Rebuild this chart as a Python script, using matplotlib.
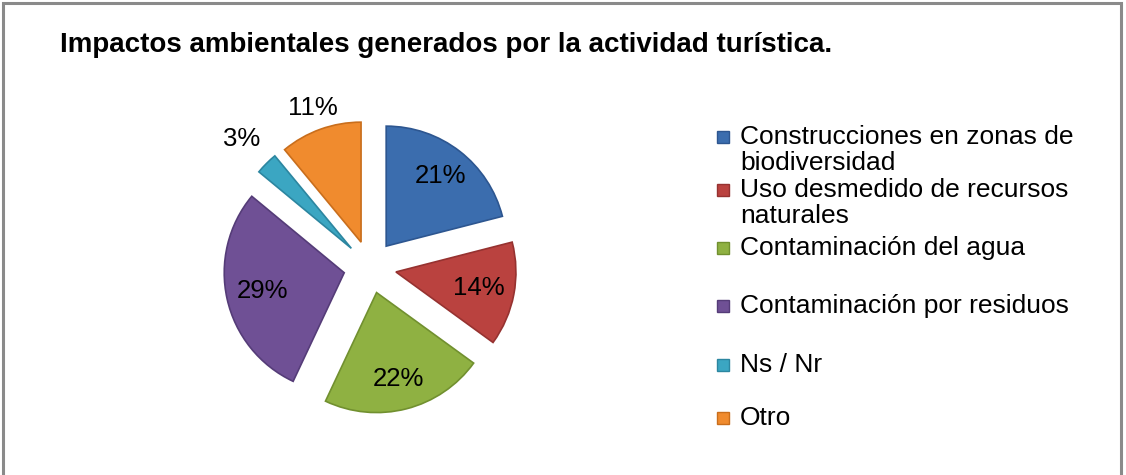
import matplotlib.pyplot as plt, numpy as np
from matplotlib.patches import Rectangle

plt.rcParams['font.family'] = ['Liberation Sans', 'DejaVu Sans']

# datos
titulo = 'Impactos ambientales generados por la actividad turística.'
categorias = ['Construcciones en zonas de\nbiodiversidad',
              'Uso desmedido de recursos\nnaturales',
              'Contaminación del agua',
              'Contaminación por residuos',
              'Ns / Nr',
              'Otro']
valores = [21, 14, 22, 29, 3, 11]
colores = ['#3B6DAE', '#BA423F', '#8FB142', '#6F5095', '#3BA6C2', '#F08B2E']
bordes = ['#2D5690', '#963230', '#71902F', '#553C78', '#2C86A0', '#C96E1C']

W, H = 1126, 475
fig = plt.figure(figsize=(W / 100, H / 100), dpi=100)

# marco gris
fig.patches.append(Rectangle((3 / W, -0.05), 1118 / W, (472 / H) + 0.05,
                             transform=fig.transFigure, fill=False,
                             edgecolor='#8A8A8A', linewidth=2.2))

fig.text(60 / W, 1 - 45 / H, titulo, fontsize=20, fontweight='bold',
         va='center', ha='left')

# pastel
lim = 1.6
ax = fig.add_axes([(370 - 192) / W, (208 - 192) / H, 384 / W, 384 / H])
expl = 0.22
wedges, _ = ax.pie(valores, colors=colores, startangle=90, counterclock=False,
                   explode=[expl] * len(valores), radius=1,
                   wedgeprops=dict(linewidth=1.2))
for w, b in zip(wedges, bordes):
    w.set_edgecolor(b)
ax.set_xlim(-lim, lim)
ax.set_ylim(-lim, lim)
ax.set_aspect('equal')
ax.axis('off')

# etiquetas de porcentaje
dist = [0.74, 0.7, 0.74, 0.7, 1.29, 1.19]
for w, v, d in zip(wedges, valores, dist):
    ang = np.deg2rad((w.theta1 + w.theta2) / 2)
    cx, cy = w.center
    ax.text(cx + d * np.cos(ang), cy + d * np.sin(ang), f'{v}%',
            fontsize=18.5, ha='center', va='center')

# leyenda
ys = [137, 190, 248, 306, 365, 418]
for cat, c, b, y in zip(categorias, colores, bordes, ys):
    fig.patches.append(Rectangle((717 / W, 1 - (y + 6) / H), 12 / W, 12 / H,
                                 transform=fig.transFigure, facecolor=c,
                                 edgecolor=b, linewidth=1))
    fig.text(740 / W, 1 - (y - 12) / H, cat, fontsize=19, va='top',
             ha='left', linespacing=1.1)

fig.savefig('out.png', dpi=100)
